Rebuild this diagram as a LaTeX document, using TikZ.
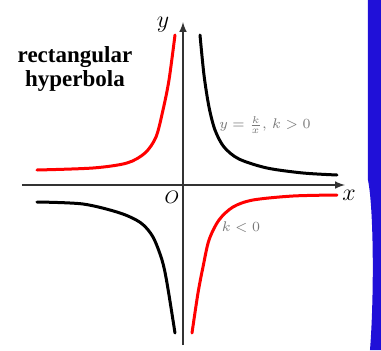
\documentclass[tikz,border=0pt]{standalone}
\usepackage{fontspec}
\setmainfont{Liberation Serif}
\usepackage{amsmath}
\definecolor{slideblue}{RGB}{32,16,216}
\definecolor{labelgray}{RGB}{120,120,120}
\begin{document}
\begin{tikzpicture}[x=0.5pt,y=0.5pt]
    \useasboundingbox (-183,-165) rectangle (198,185);
    % blue edge of the slide
    \fill[slideblue] (185,185) -- (185,5) .. controls (191,-25) and (191,-115) .. (187,-165) -- (198,-165) -- (198,185) -- cycle;
    % axes
    \coordinate (xl) at (-161,0);
    \coordinate (xr) at (162,0);
    \coordinate (yb) at (0,-160);
    \coordinate (yt) at (0,163);
    \draw[-latex, line width=0.7pt, black!80] (xl) -- (xr);
    \draw[-latex, line width=0.7pt, black!80] (yb) -- (yt);
    % branches
    \draw[line width=1.5pt, line cap=round] plot[smooth] coordinates {(17,150) (21,110) (26,78) (32,55) (41,38) (56,26) (84,17) (120,12) (154,10)};
    \draw[line width=1.5pt, line cap=round, red] plot[smooth] coordinates {(-8,150) (-14,105) (-20,75) (-27,48) (-38,32) (-56,22) (-90,17) (-146,15)};
    \draw[line width=1.5pt, line cap=round] plot[smooth] coordinates {(-146,-17) (-100,-19) (-63,-28) (-42,-38) (-30,-52) (-21,-75) (-16,-98) (-8,-148)};
    \draw[line width=1.5pt, line cap=round, red] plot[smooth] coordinates {(9,-148) (15,-108) (20,-82) (26,-55) (36,-35) (50,-22) (70,-15) (110,-11) (154,-10)};
    % labels
    \node (ylab) at (-20,160) {\large$y$};
    \node (xlab) at (166,-10) {\large$x$};
    \node (olab) at (-11,-12) {\small$O$};
    \node[labelgray] (kpos) at (82,60) {\scriptsize$y=\frac{k}{x},\,k>0$};
    \node[labelgray] (kneg) at (58,-42) {\scriptsize$k<0$};
    \node[align=center, font=\fontsize{11.5}{12}\selectfont\bfseries] (title) at (-108,116) {rectangular\\hyperbola};
\end{tikzpicture}
\end{document}
